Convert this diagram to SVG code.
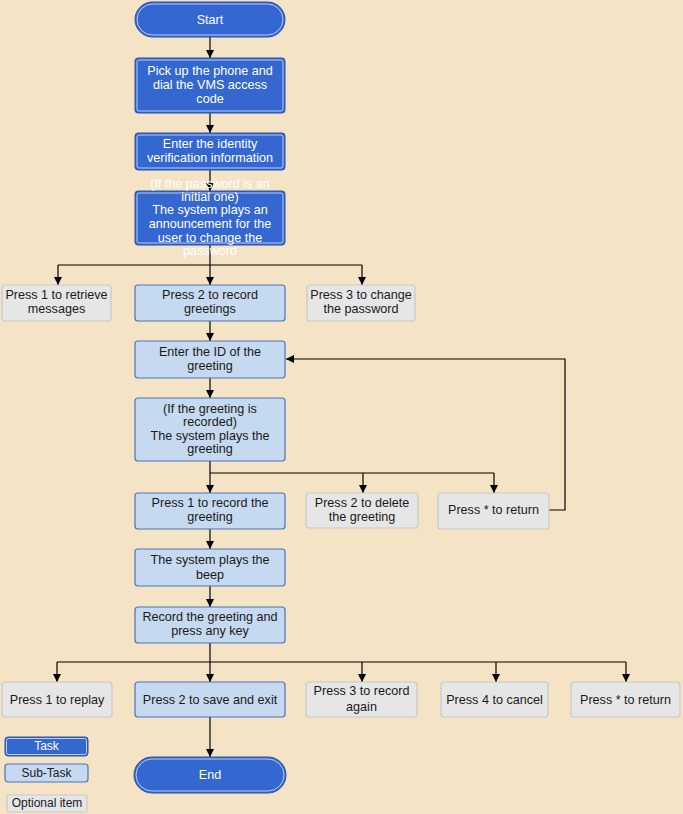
<svg xmlns="http://www.w3.org/2000/svg" width="683" height="814" viewBox="0 0 683 814">
<defs>
<marker id="ah" markerWidth="8" markerHeight="8" refX="8" refY="4" orient="auto" markerUnits="userSpaceOnUse">
<path d="M0,0 L8,4 L0,8 z" fill="#000"/>
</marker>
<style>
.task{fill:#3567D0;stroke:#2A50A8;stroke-width:1}
.tin{fill:none;stroke:#B8CDF2;stroke-width:1}
.sub{fill:#C5D9F0;stroke:#4F72B8;stroke-width:1.2}
.opt{fill:#E6E6E6;stroke:#C9C9C9;stroke-width:1.2}
.tw{font-family:"Liberation Sans",Arial,sans-serif;font-size:12.6px;fill:#fff;text-anchor:middle}
.tb{font-family:"Liberation Sans",Arial,sans-serif;font-size:12.6px;fill:#1a1a1a;text-anchor:middle}
.c{fill:none;stroke:#000;stroke-width:1.2}
</style>
</defs>
<rect width="683" height="814" fill="#F5E3C5"/>
<g id="connectors">
<path class="c" d="M210,37 V58" marker-end="url(#ah)"/>
<path class="c" d="M210,113 V133" marker-end="url(#ah)"/>
<path class="c" d="M210,170 V191" marker-end="url(#ah)"/>
<path class="c" d="M210,245 V285" marker-end="url(#ah)"/>
<path class="c" d="M58,265 H362"/>
<path class="c" d="M58,265 V285" marker-end="url(#ah)"/>
<path class="c" d="M362,265 V285" marker-end="url(#ah)"/>
<path class="c" d="M210,321 V341" marker-end="url(#ah)"/>
<path class="c" d="M210,378 V398" marker-end="url(#ah)"/>
<path class="c" d="M210,461 V493" marker-end="url(#ah)"/>
<path class="c" d="M210,473 H494"/>
<path class="c" d="M363,473 V493" marker-end="url(#ah)"/>
<path class="c" d="M494,473 V493" marker-end="url(#ah)"/>
<path class="c" d="M549,510 H565 V359 H286" marker-end="url(#ah)"/>
<path class="c" d="M210,529 V549" marker-end="url(#ah)"/>
<path class="c" d="M210,586 V607" marker-end="url(#ah)"/>
<path class="c" d="M210,643 V682" marker-end="url(#ah)"/>
<path class="c" d="M57,662 H626"/>
<path class="c" d="M57,662 V682" marker-end="url(#ah)"/>
<path class="c" d="M362,662 V682" marker-end="url(#ah)"/>
<path class="c" d="M496,662 V682" marker-end="url(#ah)"/>
<path class="c" d="M626,662 V682" marker-end="url(#ah)"/>
<path class="c" d="M210,717 V757" marker-end="url(#ah)"/>
</g>
<g id="start">
<rect class="task" x="135" y="2" width="150" height="35" rx="17.5"/>
<rect class="tin" x="137" y="4" width="146" height="31" rx="15.5"/>
<text class="tw" x="210" y="24">Start</text>
</g>
<g id="pickup">
<rect class="task" x="135" y="58" width="150" height="55" rx="3"/>
<rect class="tin" x="137" y="60" width="146" height="51" rx="2"/>
<text class="tw" x="210" y="75">Pick up the phone and</text>
<text class="tw" x="210" y="89">dial the VMS access</text>
<text class="tw" x="210" y="103">code</text>
</g>
<g id="identity">
<rect class="task" x="135" y="133" width="150" height="37" rx="3"/>
<rect class="tin" x="137" y="135" width="146" height="33" rx="2"/>
<text class="tw" x="210" y="148">Enter the identity</text>
<text class="tw" x="210" y="162">verification information</text>
</g>
<g id="announce">
<rect class="task" x="135" y="191" width="150" height="54" rx="3"/>
<rect class="tin" x="137" y="193" width="146" height="50" rx="2"/>
<text class="tw" x="210" y="188">(If the password is an</text>
<text class="tw" x="210" y="201">initial one)</text>
<text class="tw" x="210" y="214">The system plays an</text>
<text class="tw" x="210" y="228">announcement for the</text>
<text class="tw" x="210" y="242">user to change the</text>
<text class="tw" x="210" y="255">password</text>
</g>
<g id="retrieve">
<rect class="opt" x="2" y="285" width="109" height="36" rx="3"/>
<text class="tb" x="56.5" y="299">Press 1 to retrieve</text>
<text class="tb" x="56.5" y="313">messages</text>
</g>
<g id="recordgreet">
<rect class="sub" x="135" y="285" width="150" height="36" rx="3"/>
<text class="tb" x="210" y="299">Press 2 to record</text>
<text class="tb" x="210" y="313">greetings</text>
</g>
<g id="changepw">
<rect class="opt" x="307" y="285" width="108" height="36" rx="3"/>
<text class="tb" x="361" y="299">Press 3 to change</text>
<text class="tb" x="361" y="313">the password</text>
</g>
<g id="enterid">
<rect class="sub" x="135" y="341" width="150" height="37" rx="3"/>
<text class="tb" x="210" y="356">Enter the ID of the</text>
<text class="tb" x="210" y="370">greeting</text>
</g>
<g id="ifrecorded">
<rect class="sub" x="135" y="398" width="150" height="63" rx="3"/>
<text class="tb" x="210" y="413">(If the greeting is</text>
<text class="tb" x="210" y="426">recorded)</text>
<text class="tb" x="210" y="440">The system plays the</text>
<text class="tb" x="210" y="453">greeting</text>
</g>
<g id="record1">
<rect class="sub" x="135" y="493" width="150" height="36" rx="3"/>
<text class="tb" x="210" y="507">Press 1 to record the</text>
<text class="tb" x="210" y="521">greeting</text>
</g>
<g id="delete2">
<rect class="opt" x="306" y="493" width="112" height="35" rx="3"/>
<text class="tb" x="362" y="507">Press 2 to delete</text>
<text class="tb" x="362" y="521">the greeting</text>
</g>
<g id="return1">
<rect class="opt" x="438" y="493" width="111" height="36" rx="3"/>
<text class="tb" x="493.5" y="514">Press * to return</text>
</g>
<g id="beep">
<rect class="sub" x="135" y="549" width="150" height="37" rx="3"/>
<text class="tb" x="210" y="564">The system plays the</text>
<text class="tb" x="210" y="579">beep</text>
</g>
<g id="recordkey">
<rect class="sub" x="135" y="607" width="150" height="36" rx="3"/>
<text class="tb" x="210" y="621">Record the greeting and</text>
<text class="tb" x="210" y="635">press any key</text>
</g>
<g id="replay">
<rect class="opt" x="2" y="682" width="110" height="35" rx="3"/>
<text class="tb" x="57" y="704">Press 1 to replay</text>
</g>
<g id="saveexit">
<rect class="sub" x="135" y="682" width="150" height="35" rx="3"/>
<text class="tb" x="210" y="704">Press 2 to save and exit</text>
</g>
<g id="recordagain">
<rect class="opt" x="306" y="682" width="111" height="35" rx="3"/>
<text class="tb" x="361.5" y="695">Press 3 to record</text>
<text class="tb" x="361.5" y="711">again</text>
</g>
<g id="cancel">
<rect class="opt" x="441" y="682" width="107" height="35" rx="3"/>
<text class="tb" x="494.5" y="704">Press 4 to cancel</text>
</g>
<g id="return2">
<rect class="opt" x="571" y="682" width="109" height="35" rx="3"/>
<text class="tb" x="625.5" y="704">Press * to return</text>
</g>
<g id="end">
<rect class="task" x="134" y="757" width="152" height="36" rx="18"/>
<rect class="tin" x="136" y="759" width="148" height="32" rx="16"/>
<text class="tw" x="210" y="779">End</text>
</g>
<g id="legend-task">
<rect class="task" x="5" y="737" width="83" height="19" rx="3"/>
<rect class="tin" x="6.5" y="738.5" width="80" height="16" rx="2"/>
<text class="tw" x="46.5" y="750" style="font-size:12px">Task</text>
</g>
<g id="legend-sub">
<rect class="sub" x="5" y="764" width="83" height="18" rx="3"/>
<text class="tb" x="46.5" y="777" style="font-size:12px">Sub-Task</text>
</g>
<g id="legend-opt">
<rect class="opt" x="7" y="795" width="80" height="17" rx="2"/>
<text class="tb" x="47" y="807" style="font-size:12px">Optional item</text>
</g>
</svg>
